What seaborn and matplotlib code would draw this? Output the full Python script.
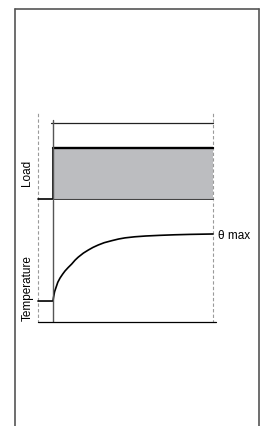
import numpy as np
import pandas as pd
import matplotlib
matplotlib.use("Agg")
import matplotlib.pyplot as plt
import seaborn as sns
from matplotlib.lines import Line2D

# Data (time in arbitrary units, load / temperature normalised)
load_time = [-0.94, 0.0, 0.0, 10.0]
load_value = [0.0, 0.0, 1.0, 1.0]

temp_time = [-0.94, 0.0, 0.03, 0.06, 0.1, 0.2, 0.3, 0.44, 0.6, 0.75, 0.95,
             1.17, 1.38, 1.58, 1.9, 2.21, 2.5, 2.83, 3.2, 3.67, 4.1, 4.5,
             5.1, 5.8, 6.7, 7.6, 8.56, 10.0]
temp_value = [0.0, 0.0, 0.05, 0.09, 0.14, 0.21, 0.28, 0.343, 0.40, 0.448,
              0.50, 0.552, 0.61, 0.655, 0.715, 0.761, 0.80, 0.836, 0.87,
              0.90, 0.925, 0.942, 0.958, 0.97, 0.98, 0.988, 0.994, 1.0]

labels = ["Load", "Temperature"]
max_label = "θ max"

T_START, T_END = -0.94, 10.0

sns.set_theme(style="white")
plt.rcParams['font.family'] = ['Liberation Sans', 'DejaVu Sans']

W, H = 264, 426
fig = plt.figure(figsize=(W / 100, H / 100), dpi=100)

def box(x0, y0, x1, y1):
    return [x0 / W, 1 - y1 / H, (x1 - x0) / W, (y1 - y0) / H]

ax_load = fig.add_axes(box(36, 112, 216, 200))
ax_temp = fig.add_axes(box(36, 200, 216, 323))

xlim = ((36 - 53) / 16, (216 - 53) / 16)
for ax in (ax_load, ax_temp):
    ax.set_xlim(*xlim)
    ax.set_axis_off()
    ax.axvline(T_START, color="#9a9a9a", lw=0.8, ls=(0, (3, 2)))
    ax.axvline(T_END, color="#9a9a9a", lw=0.8, ls=(0, (3, 2)))

ax_load.set_ylim(-0.0196, 1.706)
ax_temp.set_ylim(-0.328, 1.507)

# Load panel
ax_load.fill_between(load_time, 0, load_value, color="#bcbdc0", lw=0)
ax_load.plot([0, T_END], [0, 0], color="#444444", lw=0.8)
sns.lineplot(x=load_time, y=load_value, estimator=None, sort=False,
             color="black", lw=1.2, ax=ax_load)
ax_load.plot(load_time[2:], load_value[2:], color="black", lw=1.7)
ax_load.plot([-0.12, T_END], [1.49, 1.49], color="#222222", lw=0.9)
ax_load.axvline(0, ymin=0, ymax=0.909, color="#555555", lw=1.0)

# Temperature panel
df = pd.DataFrame({"t": temp_time, "theta": temp_value})
sns.lineplot(data=df, x="t", y="theta", estimator=None, sort=False,
             color="black", lw=1.2, ax=ax_temp)
ax_temp.axvline(0, color="#555555", lw=1.0)
ax_temp.plot([T_START, xlim[1]], [-0.313, -0.313], color="black", lw=0.9,
             clip_on=False)
ax_temp.text(10.3, 0.97, max_label, fontsize=8.5, va="center", ha="left",
             color="black", clip_on=False)

fig.text(27 / W, 1 - 173 / H, labels[0], rotation=90, fontsize=8.5,
         ha="center", va="center", color="black")
fig.text(28 / W, 1 - 288 / H, labels[1], rotation=90, fontsize=8.5,
         ha="center", va="center", color="black")

# outer frame (open at the bottom)
frame = dict(color="#555555", lw=1.2, transform=fig.transFigure)
fig.add_artist(Line2D([15 / W, 15 / W], [1 - 9 / H, 0], **frame))
fig.add_artist(Line2D([259 / W, 259 / W], [1 - 9 / H, 0], **frame))
fig.add_artist(Line2D([15 / W, 259 / W], [1 - 9 / H, 1 - 9 / H], **frame))

fig.savefig("out.png", dpi=100)
